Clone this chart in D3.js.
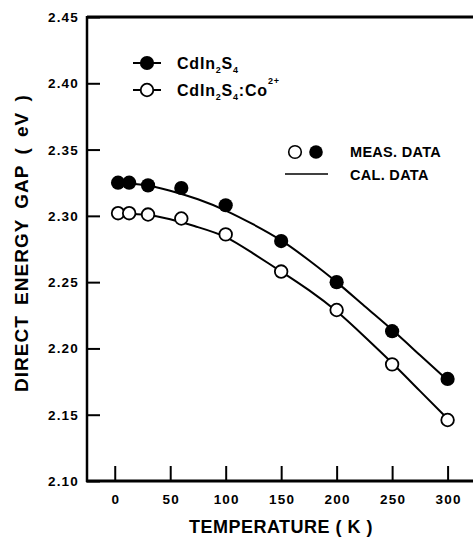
<!DOCTYPE html>
<html><head><meta charset="utf-8">
<script src="https://cdn.jsdelivr.net/npm/d3@7"></script>
<style>
body{margin:0;background:#fff;}
text{font-family:"Liberation Sans",Arial,sans-serif;font-weight:bold;fill:#000;}
</style></head>
<body><svg id="c" width="473" height="541"></svg>
<script>
// measured data (temperature in K)
const measTemp = [3, 13, 30, 60, 100, 150, 200, 250, 300];
const gapPure  = [2.325, 2.325, 2.323, 2.321, 2.308, 2.281, 2.250, 2.213, 2.177];
const gapCo    = [2.302, 2.302, 2.301, 2.298, 2.286, 2.258, 2.229, 2.188, 2.146];
// calculated curves
const calTemp  = [0, 25, 50, 75, 100, 125, 150, 175, 200, 225, 250, 275, 300];
const calPure  = [2.325, 2.3235, 2.319, 2.3125, 2.304, 2.2935, 2.2815, 2.2665, 2.250, 2.232, 2.214, 2.195, 2.176];
const calCo    = [2.302, 2.301, 2.2975, 2.2915, 2.284, 2.2715, 2.258, 2.244, 2.228, 2.209, 2.189, 2.168, 2.147];
const xTicks = [0, 50, 100, 150, 200, 250, 300];
const yTicks = [2.10, 2.15, 2.20, 2.25, 2.30, 2.35, 2.40, 2.45];

const svg = d3.select("#c");
const x = d3.scaleLinear().domain([-25, 322]).range([87, 472]);
const y = d3.scaleLinear().domain([2.10, 2.45]).range([481, 17]);

// frame
svg.append("line").attr("x1",87).attr("x2",473).attr("y1",17).attr("y2",17).attr("stroke","#000").attr("stroke-width",3);
svg.append("line").attr("x1",87).attr("x2",87).attr("y1",16).attr("y2",482).attr("stroke","#000").attr("stroke-width",2.5);
svg.append("line").attr("x1",86).attr("x2",473).attr("y1",481).attr("y2",481).attr("stroke","#000").attr("stroke-width",3);

// y axis
const yAx = svg.append("g").attr("transform","translate(87,0)")
  .call(d3.axisRight(y).tickValues(yTicks).tickSize(13).tickFormat(""));
yAx.select(".domain").remove();
yAx.selectAll("line").attr("stroke-width",2);
yTicks.forEach(v=>{
  svg.append("text").attr("x",79).attr("y",y(v)+5).attr("text-anchor","end")
    .attr("font-size",13.5).attr("letter-spacing",1.2).text(d3.format(".2f")(v));
});
// x axis
const xAx = svg.append("g").attr("transform","translate(0,481)")
  .call(d3.axisTop(x).tickValues(xTicks).tickSize(15).tickFormat(""));
xAx.select(".domain").remove();
xAx.selectAll("line").attr("stroke-width",2);
xTicks.forEach(v=>{
  svg.append("text").attr("x",x(v)+1).attr("y",504).attr("text-anchor","middle")
    .attr("font-size",13.5).attr("letter-spacing",1.2).text(v);
});

// axis titles
svg.append("text").attr("x",281).attr("y",533).attr("text-anchor","middle")
  .attr("font-size",18).attr("letter-spacing",0.5).text("TEMPERATURE ( K )");
svg.append("text").attr("transform","translate(28,243) rotate(-90)").attr("text-anchor","middle")
  .attr("font-size",19).attr("letter-spacing",1).attr("word-spacing",4).text("DIRECT ENERGY GAP ( eV )");

// curves
const line = d3.line().x(d=>x(d[0])).y(d=>y(d[1])).curve(d3.curveNatural);
[calPure, calCo].forEach(arr=>{
  svg.append("path").datum(calTemp.map((t,i)=>[t,arr[i]])).attr("d",line)
    .attr("fill","none").attr("stroke","#000").attr("stroke-width",2);
});

// points
const R = 6.3;
svg.selectAll(".pp").data(measTemp.map((t,i)=>[t,gapPure[i]])).enter().append("circle")
  .attr("cx",d=>x(d[0])).attr("cy",d=>y(d[1])).attr("r",R+0.8).attr("fill","#000");
svg.selectAll(".pc").data(measTemp.map((t,i)=>[t,gapCo[i]])).enter().append("circle")
  .attr("cx",d=>x(d[0])).attr("cy",d=>y(d[1])).attr("r",R).attr("fill","#fff")
  .attr("stroke","#000").attr("stroke-width",1.8);

// legend 1
function legRow(yy, filled, parts){
  svg.append("line").attr("x1",133).attr("x2",161).attr("y1",yy).attr("y2",yy).attr("stroke","#000").attr("stroke-width",2);
  if(filled) svg.append("circle").attr("cx",147).attr("cy",yy).attr("r",R+0.8).attr("fill","#000");
  else svg.append("circle").attr("cx",147).attr("cy",yy).attr("r",R).attr("fill","#fff").attr("stroke","#000").attr("stroke-width",1.8);
  const t = svg.append("text").attr("x",177).attr("y",yy+6).attr("font-size",16).attr("letter-spacing",0.8);
  parts.forEach(p=>{
    const ts = t.append("tspan").text(p[0]);
    if(p[1]==="sub") ts.attr("font-size",9).attr("dy",4);
    else if(p[1]==="sup") ts.attr("font-size",9).attr("dy",-12);
    else if(p[1]==="back") ts.attr("dy",-4);
    else if(p[1]==="back2") ts.attr("dy",12);
  });
}
legRow(63, true, [["CdIn"],["2","sub"],["S","back"],["4","sub"]]);
legRow(90, false, [["CdIn"],["2","sub"],["S","back"],["4","sub"],[":Co","back"],["2+","sup"]]);

// legend 2
svg.append("circle").attr("cx",295).attr("cy",152).attr("r",R).attr("fill","#fff").attr("stroke","#000").attr("stroke-width",1.6);
svg.append("circle").attr("cx",316).attr("cy",152).attr("r",R+0.5).attr("fill","#000");
svg.append("text").attr("x",350).attr("y",157).attr("font-size",14.5).attr("letter-spacing",0.3).text("MEAS. DATA");
svg.append("line").attr("x1",285).attr("x2",328).attr("y1",174).attr("y2",174).attr("stroke","#000").attr("stroke-width",1.5);
svg.append("text").attr("x",350).attr("y",180).attr("font-size",14.5).attr("letter-spacing",0.3).text("CAL. DATA");
</script></body></html>
